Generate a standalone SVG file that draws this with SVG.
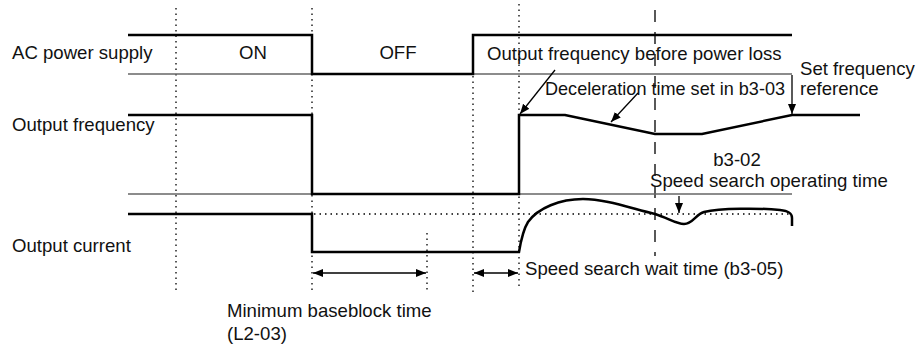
<svg xmlns="http://www.w3.org/2000/svg" width="920" height="345" viewBox="0 0 920 345">
<defs>
<style>
text{font-family:"Liberation Sans",Arial,Helvetica,sans-serif;font-size:18.6px;fill:#111}
.sig{fill:none;stroke:#000;stroke-width:2.5;stroke-linejoin:miter}
.base{fill:none;stroke:#666;stroke-width:1.5}
.dot{fill:none;stroke:#000;stroke-width:1.3;stroke-dasharray:1.5 4}
.dash{fill:none;stroke:#000;stroke-width:1.3;stroke-dasharray:12 10}
.ln{fill:none;stroke:#000;stroke-width:1.3}
.mid{text-anchor:middle}
</style>
<marker id="ah" viewBox="0 0 10 10" refX="10" refY="5" markerWidth="10" markerHeight="10" markerUnits="userSpaceOnUse" orient="auto-start-reverse">
<path d="M0,1 L10,5 L0,9 Z" fill="#000"/>
</marker>
</defs>
<rect width="920" height="345" fill="#fff"/>
<g id="guides">
<line class="dot" x1="176" y1="8" x2="176" y2="290"/>
<line class="dot" x1="312" y1="8" x2="312" y2="290"/>
<line class="dot" x1="427" y1="233" x2="427" y2="292"/>
<line class="dot" x1="473" y1="76" x2="473" y2="293"/>
<line class="dot" x1="519" y1="4" x2="519" y2="290"/>
<line class="dash" x1="655" y1="10" x2="655" y2="256"/>
<line class="dot" x1="314" y1="214" x2="792" y2="214"/>
</g>
<g id="ac-power-supply">
<text x="12" y="59">AC power supply</text>
<line class="base" x1="128" y1="74" x2="312" y2="74"/>
<line class="base" x1="473" y1="74" x2="792" y2="74"/>
<path class="sig" d="M128,35 H312 V74 H473 V35 H792"/>
<text class="mid" x="253" y="59">ON</text>
<text class="mid" x="398" y="59">OFF</text>
</g>
<g id="output-frequency">
<text x="12" y="131">Output frequency</text>
<line class="base" x1="128" y1="194" x2="792" y2="194"/>
<path class="sig" d="M128,115 H312 V194 H519 V115 H565 L655,134 H702 L792,115 H860"/>
</g>
<g id="output-current">
<text x="12" y="252">Output current</text>
<path class="sig" d="M128,214 H312 V252 H519 C521,240 523,230 528,222 C538,208 560,199 583,199 C605,199 630,208 655,214 C668,218 676,224 684,224 C693,224 696,214 704,212 C720,208 760,208 780,210 C790,211 792,214 792,218 L792,226"/>
</g>
<g id="labels">
<text x="487" y="60">Output frequency before power loss</text>
<text x="800" y="75">Set frequency</text>
<text x="800" y="95">reference</text>
<text x="545" y="95" textLength="240" lengthAdjust="spacingAndGlyphs">Deceleration time set in b3-03</text>
<text class="mid" x="737" y="166">b3-02</text>
<text x="650" y="187">Speed search operating time</text>
<text x="525" y="275">Speed search wait time (b3-05)</text>
<text x="227" y="317">Minimum baseblock time</text>
<text x="227" y="340">(L2-03)</text>
</g>
<g id="connectors">
<line class="ln" x1="555" y1="70" x2="520" y2="114" marker-end="url(#ah)"/>
<line class="ln" x1="638" y1="93" x2="611" y2="122" marker-end="url(#ah)"/>
<line class="ln" x1="792" y1="75" x2="792" y2="114" marker-end="url(#ah)"/>
<line class="ln" x1="679" y1="196" x2="679" y2="213" marker-end="url(#ah)"/>
<line class="ln" x1="313" y1="273" x2="426" y2="273" marker-start="url(#ah)" marker-end="url(#ah)"/>
<line class="ln" x1="474" y1="273" x2="518" y2="273" marker-start="url(#ah)" marker-end="url(#ah)"/>
</g>
</svg>
